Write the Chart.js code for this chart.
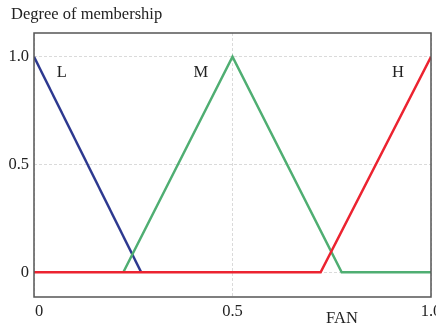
<!DOCTYPE html>
<html>
<head>
<meta charset="utf-8">
<script src="https://cdn.jsdelivr.net/npm/chart.js@4/dist/chart.umd.min.js"></script>
<style>
  html, body { margin: 0; padding: 0; background: #fff; }
  #wrap { width: 436px; height: 326px; }
</style>
</head>
<body>
<div id="wrap"><canvas id="myChart" width="436" height="326"></canvas></div>
<script>
let ctx = document.getElementById('myChart').getContext('2d');

//Membership functions (x = FAN, y = degree)
const lowX = [0, 0.27];
const lowY = [1, 0];
const medX = [0.225, 0.5, 0.775, 1.0];
const medY = [0, 1, 0, 0];
const highX = [0, 0.722, 1.0];
const highY = [0, 0, 1];

//Tick labels
const xTicks = [0, 0.5, 1.0];
const xTickText = ['0', '0.5', '1.0'];
const yTicks = [0, 0.5, 1.0];
const yTickText = ['0', '0.5', '1.0'];

//Set names and where they sit
const setNames = ['L', 'M', 'H'];
const setNameX = [0.07, 0.42, 0.917];
const setNameY = [0.925, 0.925, 0.925];

const FONT = '"Liberation Serif", "Times New Roman", serif';

function toPoints(xs, ys) {
  return xs.map((x, i) => ({x: x, y: ys[i]}));
}

//Frame, tick labels and captions
const frameText = {
  id: 'frameText',
  afterDraw(chart) {
    const c = chart.ctx;
    const a = chart.chartArea;
    const xs = chart.scales.x;
    const ys = chart.scales.y;
    c.save();
    c.strokeStyle = '#555';
    c.lineWidth = 1.5;
    c.strokeRect(a.left, a.top, a.right - a.left, a.bottom - a.top);

    c.fillStyle = '#222';
    c.font = '16.5px ' + FONT;
    c.textBaseline = 'middle';

    c.textAlign = 'center';
    xTicks.forEach((v, i) => {
      let px = xs.getPixelForValue(v);
      if (i === 0) px += 5;
      c.fillText(xTickText[i], px, a.bottom + 15);
    });

    c.textAlign = 'right';
    yTicks.forEach((v, i) => {
      c.fillText(yTickText[i], a.left - 5, ys.getPixelForValue(v));
    });

    c.textAlign = 'center';
    setNames.forEach((n, i) => {
      c.fillText(n, xs.getPixelForValue(setNameX[i]), ys.getPixelForValue(setNameY[i]));
    });

    c.fillText('FAN', 342, 319);

    c.textAlign = 'left';
    c.fillText('Degree of membership', 11, 15);
    c.restore();
  }
};

let fuzzyChart = new Chart(ctx, {
  type: 'line',
  data: {
    datasets: [
      {
        label: 'H',
        data: toPoints(highX, highY),
        borderColor: '#ec2330',
        borderWidth: 2.5
      },
      {
        label: 'M',
        data: toPoints(medX, medY),
        borderColor: '#4fae72',
        borderWidth: 2.5
      },
      {
        label: 'L',
        data: toPoints(lowX, lowY),
        borderColor: '#2d3990',
        borderWidth: 2.5
      }
    ]
  },
  options: {
    responsive: false,
    animation: false,
    layout: {
      padding: {left: 34, right: 5, top: 33, bottom: 29}
    },
    elements: {
      point: {radius: 0},
      line: {tension: 0, borderCapStyle: 'butt', borderJoinStyle: 'miter'}
    },
    scales: {
      x: {
        type: 'linear',
        min: 0,
        max: 1,
        afterBuildTicks: (s) => { s.ticks = xTicks.map(v => ({value: v})); },
        ticks: {display: false},
        grid: {color: '#dadada', lineWidth: 1, drawTicks: false},
        border: {display: false, dash: [3, 2]}
      },
      y: {
        type: 'linear',
        min: -0.115,
        max: 1.11,
        afterBuildTicks: (s) => { s.ticks = yTicks.map(v => ({value: v})); },
        ticks: {display: false},
        grid: {color: '#dadada', lineWidth: 1, drawTicks: false},
        border: {display: false, dash: [3, 2]}
      }
    },
    plugins: {
      legend: {display: false},
      tooltip: {enabled: false},
      title: {display: false}
    }
  },
  plugins: [frameText]
});
</script>
</body>
</html>
